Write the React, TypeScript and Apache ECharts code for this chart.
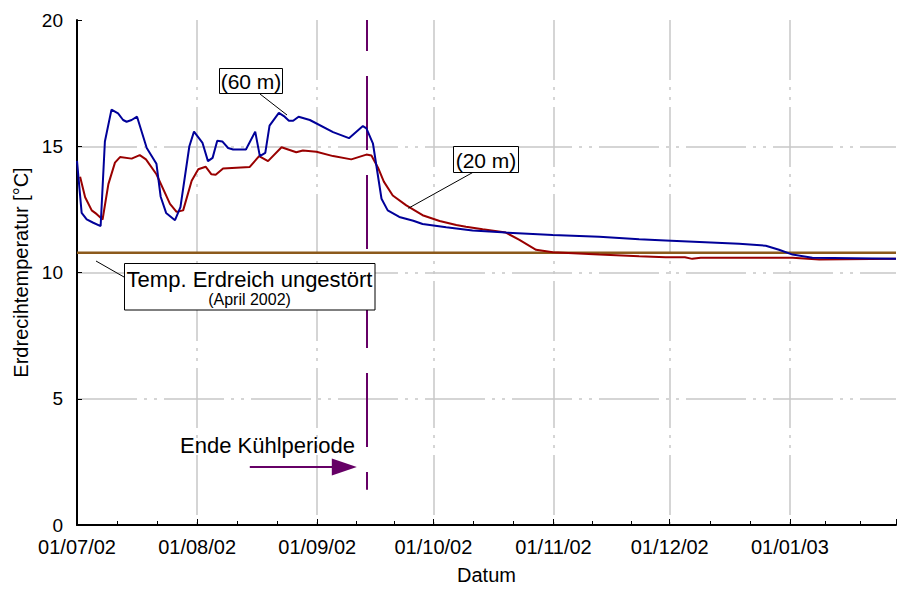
import React, { useEffect, useRef } from "react";
import * as echarts from "echarts";

// Time base: measurements are given as day offsets from 1 July 2002
const START = new Date(2002, 6, 1).getTime();
const DAY = 86400000;
const END_DAY = 211.4;

// Probe at 60 m depth
const days60 = [
  0, 1.2, 2.5, 4.2, 6.1, 7.2, 8.9, 10.6, 11.9, 12.8, 14.1, 15.5, 18, 20.5, 21.6, 23, 25.3, 26.7,
  29, 30.2, 32.4, 33.8, 35, 36.2, 37.5, 39, 40.3, 43.6, 46, 47.2, 48.6, 49.7, 52.1, 53.6, 54.7,
  55.8, 57.2, 60.1, 66.1, 70.2, 73.8, 74.7, 76.4, 78.6, 80.2, 83.2, 86.8, 89.2, 95.3, 102.1,
  110.7, 122.8, 134.8, 145.1, 151.9, 170.9, 177.8, 181.2, 184.7, 189.8, 211.4,
];
const temp60 = [
  14.42, 12.36, 12.1, 11.97, 11.84, 15.19, 16.45, 16.3, 16.04, 15.97, 16.04, 16.17, 14.93, 14.31,
  13.0, 12.36, 12.07, 12.59, 15.0, 15.58, 15.13, 14.41, 14.54, 15.22, 15.19, 14.93, 14.87, 14.87,
  15.58, 14.61, 14.74, 15.82, 16.32, 16.17, 16.01, 16.01, 16.17, 16.04, 15.56, 15.32, 15.8, 15.71,
  15.1, 12.92, 12.46, 12.2, 12.05, 11.92, 11.79, 11.66, 11.58, 11.49, 11.42, 11.32, 11.27, 11.14,
  11.06, 10.9, 10.71, 10.58, 10.54,
];

// Probe at 20 m depth
const days20 = [
  0.8, 2.1, 3.8, 5.1, 6.6, 8.1, 9.8, 11.1, 14.1, 16.2, 17.8, 20.5, 24, 25.7, 27.4, 29.6, 31.3,
  33.2, 34.7, 35.8, 37.7, 44.6, 47, 49.3, 52.8, 54.5, 56.6, 58.3, 61.8, 66.1, 70.8, 74.7, 76,
  77.7, 79.2, 81.5, 85, 89.2, 93.6, 97.9, 100.4, 104.7, 110.7, 114.2, 118.5, 122.8, 134.8, 145.1,
  151.9, 156.9, 158.8, 161, 184.7, 191.6, 211.4,
];
const temp20 = [
  13.79, 12.98, 12.46, 12.31, 12.1, 13.5, 14.35, 14.57, 14.51, 14.65, 14.48, 13.89, 12.72, 12.4,
  12.46, 13.63, 14.09, 14.19, 13.89, 13.87, 14.12, 14.18, 14.61, 14.41, 14.96, 14.87, 14.76, 14.83,
  14.78, 14.61, 14.48, 14.67, 14.63, 14.15, 13.6, 13.05, 12.66, 12.27, 12.04, 11.88, 11.81, 11.71,
  11.58, 11.29, 10.9, 10.8, 10.71, 10.64, 10.6, 10.6, 10.54, 10.58, 10.58, 10.51, 10.54,
];

// Undisturbed ground temperature (April 2002)
const undisturbedTemp = 10.78;

// End of the cooling period and the arrow pointing at it
const coolingEndDay = 74.7;
const coolingLineBottom = 1.4;
const arrowLevel = 2.3;
const arrowFromDay = 44.6;
const arrowToDay = 69.0;

const Y_MIN = 0;
const Y_MAX = 20;
const Y_INTERVAL = 5;

const toTime = (d: number) => START + d * DAY;
const pad = (n: number) => (n < 10 ? "0" + n : "" + n);

const FONT = "'Liberation Sans', Arial, sans-serif";
const GRID_DASH = [60, 7, 3, 7, 3, 7];

export default function App() {
  const ref = useRef<HTMLDivElement>(null);

  useEffect(() => {
    document.body.style.margin = "0";
    if (!ref.current) return;
    const chart = echarts.init(ref.current, undefined, { renderer: "svg" });

    const option: any = {
      animation: false,
      backgroundColor: "#ffffff",
      textStyle: { fontFamily: FONT },
      grid: { left: 77, right: 2, top: 20, bottom: 57, containLabel: false },
      xAxis: {
        type: "time",
        min: toTime(0),
        max: toTime(END_DAY),
        splitNumber: 7,
        minInterval: 28 * DAY,
        maxInterval: 31 * DAY,
        name: "Datum",
        nameLocation: "middle",
        nameGap: 40,
        nameTextStyle: { fontSize: 20, color: "#000", fontFamily: FONT },
        axisLine: { show: true, lineStyle: { color: "#000", width: 2 } },
        axisTick: { show: true, inside: true, length: 6, lineStyle: { color: "#000" } },
        minorTick: { show: true, splitNumber: 3, length: 4, lineStyle: { color: "#000" } },
        axisLabel: {
          fontSize: 20,
          lineHeight: 18,
          color: "#000",
          fontFamily: FONT,
          margin: 13,
          showMaxLabel: false,
          formatter: (v: number) => {
            const d = new Date(v);
            if (d.getDate() !== 1) return "";
            return pad(d.getDate()) + "/" + pad(d.getMonth() + 1) + "/" + pad(d.getFullYear() % 100);
          },
        },
        splitLine: {
          show: true,
          showMaxLine: false,
          showMinLine: false,
          lineStyle: { color: "#c8c8c8", width: 1.5, type: GRID_DASH },
        },
      },
      yAxis: {
        type: "value",
        min: Y_MIN,
        max: Y_MAX,
        interval: Y_INTERVAL,
        name: "Erdrecihtemperatur [°C]",
        nameLocation: "middle",
        nameGap: 46,
        nameTextStyle: { fontSize: 20, color: "#000", fontFamily: FONT },
        axisLine: { show: true, lineStyle: { color: "#000", width: 2 } },
        axisTick: { show: true, inside: true, length: 5, lineStyle: { color: "#000" } },
        axisLabel: { fontSize: 19, lineHeight: 15, color: "#000", fontFamily: FONT, margin: 14 },
        splitLine: {
          show: true,
          showMaxLine: false,
          showMinLine: false,
          lineStyle: { color: "#c8c8c8", width: 1.5, type: GRID_DASH },
        },
      },
      series: [
        {
          name: "ungestört",
          type: "line",
          data: [
            [toTime(0), undisturbedTemp],
            [toTime(END_DAY), undisturbedTemp],
          ],
          showSymbol: false,
          symbol: "none",
          lineStyle: { color: "#8c5a1c", width: 2.5 },
          silent: true,
          z: 3,
          markLine: {
            silent: true,
            symbol: "none",
            label: { show: false },
            emphasis: { disabled: true },
            data: [
              [
                {
                  coord: [toTime(coolingEndDay), Y_MAX],
                  lineStyle: { color: "#660066", width: 2, type: [74, 25], dashOffset: 43 },
                },
                { coord: [toTime(coolingEndDay), coolingLineBottom] },
              ],
              [
                {
                  coord: [toTime(arrowFromDay), arrowLevel],
                  symbol: "none",
                  lineStyle: { color: "#660066", width: 2, type: "solid" },
                },
                {
                  coord: [toTime(arrowToDay), arrowLevel],
                  symbol: "triangle",
                  symbolSize: [17, 25],
                  itemStyle: { color: "#660066" },
                },
              ],
            ],
          },
        },
        {
          name: "20 m",
          type: "line",
          data: days20.map((d, i) => [toTime(d), temp20[i]]),
          showSymbol: false,
          symbol: "none",
          lineStyle: { color: "#990000", width: 2 },
          z: 4,
        },
        {
          name: "60 m",
          type: "line",
          data: days60.map((d, i) => [toTime(d), temp60[i]]),
          showSymbol: false,
          symbol: "none",
          lineStyle: { color: "#000099", width: 2 },
          z: 5,
        },
      ],
      graphic: [
        // label for the 60 m probe
        { type: "line", shape: { x1: 260, y1: 94, x2: 287, y2: 115 }, style: { stroke: "#000", lineWidth: 1 }, z: 10 },
        {
          type: "rect",
          shape: { x: 219.5, y: 68.5, width: 63, height: 25 },
          style: { fill: "#fff", stroke: "#000", lineWidth: 1 },
          z: 10,
        },
        {
          type: "text",
          x: 251,
          y: 81.5,
          style: { text: "(60 m)", fontSize: 21, fontFamily: FONT, fill: "#000", align: "center", verticalAlign: "middle" },
          z: 11,
        },
        // label for the 20 m probe
        { type: "line", shape: { x1: 472.7, y1: 172.5, x2: 408.3, y2: 208.3 }, style: { stroke: "#000", lineWidth: 1 }, z: 10 },
        {
          type: "rect",
          shape: { x: 453.5, y: 146.5, width: 65, height: 26 },
          style: { fill: "#fff", stroke: "#000", lineWidth: 1 },
          z: 10,
        },
        {
          type: "text",
          x: 486,
          y: 160,
          style: { text: "(20 m)", fontSize: 21, fontFamily: FONT, fill: "#000", align: "center", verticalAlign: "middle" },
          z: 11,
        },
        // label for the undisturbed ground temperature
        { type: "line", shape: { x1: 96, y1: 261, x2: 124, y2: 277 }, style: { stroke: "#000", lineWidth: 1 }, z: 10 },
        {
          type: "rect",
          shape: { x: 124.5, y: 263.5, width: 250.5, height: 46.5 },
          style: { fill: "#fff", stroke: "#000", lineWidth: 1 },
          z: 10,
        },
        {
          type: "text",
          x: 249.5,
          y: 279,
          style: {
            text: "Temp. Erdreich ungestört",
            fontSize: 22,
            fontFamily: FONT,
            fill: "#000",
            align: "center",
            verticalAlign: "middle",
          },
          z: 11,
        },
        {
          type: "text",
          x: 249.5,
          y: 299.5,
          style: { text: "(April 2002)", fontSize: 16, fontFamily: FONT, fill: "#000", align: "center", verticalAlign: "middle" },
          z: 11,
        },
        // end of cooling period caption
        {
          type: "text",
          x: 180,
          y: 445,
          style: { text: "Ende Kühlperiode", fontSize: 22, fontFamily: FONT, fill: "#000", align: "left", verticalAlign: "middle" },
          z: 11,
        },
      ],
    };

    chart.setOption(option);
    return () => chart.dispose();
  }, []);

  return <div ref={ref} style={{ width: 898, height: 590 }} />;
}
